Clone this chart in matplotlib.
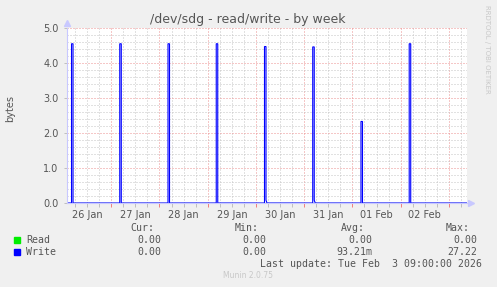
import datetime as dt
import matplotlib
matplotlib.use('Agg')
import matplotlib.pyplot as plt
import matplotlib.dates as mdates
from matplotlib.ticker import MultipleLocator, FuncFormatter
from matplotlib.patches import Rectangle

W, H = 497, 287

# data: one short write burst per day around 04:15
spike_days = ['2026-01-26', '2026-01-27', '2026-01-28', '2026-01-29',
              '2026-01-30', '2026-01-31', '2026-02-01', '2026-02-02']
spike_heights = [4.55, 4.55, 4.55, 4.55, 4.47, 4.46, 2.33, 4.55]
spike_tails = [0.0, 0.0, 0.0, 0.0, 0.08, 0.08, 0.0, 0.0]
spike_start = '04:15'

t_start = dt.datetime(2026, 1, 26, 2, 0)
t_end = dt.datetime(2026, 2, 3, 9, 0)

legend_names = ['Read', 'Write']
legend_colors = ['#00ee00', '#0000ff']
cur_vals = ['0.00', '0.00']
min_vals = ['0.00', '0.00']
avg_vals = ['0.00', '93.21m']
max_vals = ['0.00', '27.22']

# build the write series
wx, wy = [t_start], [0.0]
hh, mm = map(int, spike_start.split(':'))
for d, h, tail in zip(spike_days, spike_heights, spike_tails):
    t0 = dt.datetime.strptime(d, '%Y-%m-%d') + dt.timedelta(hours=hh, minutes=mm)
    t1 = t0 + dt.timedelta(minutes=45)
    wx += [t0, t0, t1, t1]
    wy += [0.0, h, h, tail]
    if tail:
        wx.append(t1 + dt.timedelta(minutes=30))
        wy.append(0.0)
wx.append(t_end)
wy.append(0.0)

txt = '#555555'
fig = plt.figure(figsize=(W / 100, H / 100), dpi=100, facecolor='#f0f0f0')
ax = fig.add_axes([67 / W, 1 - 203 / H, (467 - 67) / W, (203 - 28) / H])
ax.set_facecolor('white')

ax.plot([t_start, t_end], [0, 0], color=legend_colors[0], lw=0.8)
ax.plot(wx, wy, color=legend_colors[1], lw=0.8, solid_joinstyle='miter')

ax.set_xlim(t_start, t_end)
ax.set_ylim(0, 5.0)

ax.xaxis.set_major_locator(mdates.DayLocator())
ax.xaxis.set_major_formatter(FuncFormatter(lambda v, p: ''))
ax.xaxis.set_minor_locator(mdates.HourLocator(byhour=[6, 12, 18]))


def day_label(v, p):
    d = mdates.num2date(v)
    return d.strftime('%d %b') if d.hour == 12 else ''


ax.xaxis.set_minor_formatter(FuncFormatter(day_label))
ax.yaxis.set_major_locator(MultipleLocator(1.0))
ax.yaxis.set_minor_locator(MultipleLocator(0.2))
ax.yaxis.set_major_formatter(FuncFormatter(lambda v, p: '%.1f' % v))

ax.grid(which='minor', color='#c4c4c4', lw=0.72, linestyle=(0, (1, 2)))
ax.grid(which='major', color='#ec9090', lw=0.72, linestyle=(0, (1, 2)))
ax.set_axisbelow(True)

ax.tick_params(axis='x', which='major', length=3, width=0.72, color='#f08080',
               direction='out', pad=2)
ax.tick_params(axis='x', which='minor', length=3, width=0.72, color='#c0c0c0',
               direction='out', labelsize=7, labelcolor=txt, pad=2)
ax.tick_params(axis='y', which='major', length=2, width=0.72, color='#c0c0c0',
               labelsize=7, labelcolor=txt, pad=4)
ax.tick_params(axis='y', which='minor', length=0)

for s in ['top', 'right']:
    ax.spines[s].set_visible(False)
ax.spines['left'].set_color('#c8c8ff')
ax.spines['bottom'].set_color('#c8c8ff')
ax.spines['left'].set_linewidth(0.8)
ax.spines['bottom'].set_linewidth(0.8)
ax.plot([0], [1.03], marker='^', color='#c8c8ff', ms=4, transform=ax.transAxes, clip_on=False)
ax.plot([1.01], [0], marker='>', color='#c8c8ff', ms=4, transform=ax.transAxes, clip_on=False)


def ftext(x, y, s, **kw):
    fig.text(x / W, 1 - y / H, s, **kw)


ftext(248, 19, '/dev/sdg - read/write - by week', ha='center', va='center',
      fontsize=9, color=txt)
ftext(10, 108, 'bytes', ha='center', va='center', rotation=90, fontsize=7, color=txt)
ftext(487, 5, 'RRDTOOL / TOBI OETIKER', ha='center', va='top', rotation=270,
      fontsize=5, color='#c8c8c8')

mono = dict(family='DejaVu Sans Mono', fontsize=7.1, color=txt, va='center')
ftext(154, 228, 'Cur:', ha='right', **mono)
ftext(259, 228, 'Min:', ha='right', **mono)
ftext(365, 228, 'Avg:', ha='right', **mono)
ftext(470, 228, 'Max:', ha='right', **mono)
for i, name in enumerate(legend_names):
    y = 240 + i * 12
    fig.add_artist(Rectangle((14 / W, 1 - (y + 3) / H), 6 / W, 6 / H,
                             transform=fig.transFigure, color=legend_colors[i]))
    ftext(26, y, name, ha='left', **mono)
    ftext(161, y, cur_vals[i], ha='right', **mono)
    ftext(266, y, min_vals[i], ha='right', **mono)
    ftext(372, y, avg_vals[i], ha='right', **mono)
    ftext(477, y, max_vals[i], ha='right', **mono)
ftext(482, 264, 'Last update: Tue Feb  3 09:00:00 2026', ha='right', **mono)
ftext(248, 276, 'Munin 2.0.75', ha='center', fontsize=5.5, color='#c8c8c8', va='center')

fig.savefig('out.png', dpi=100, facecolor=fig.get_facecolor())
